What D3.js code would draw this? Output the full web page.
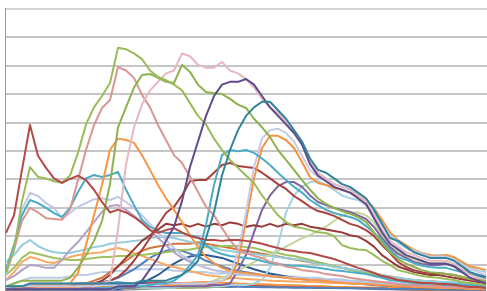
<!DOCTYPE html>
<html lang="en">
<head>
    <meta charset="UTF-8">
    <title>Series chart</title>
    <style>
        body {
            margin: 0;
            background-color: #ffffff;
        }
        svg {
            display: block;
        }
        .series path {
            fill: none;
            stroke-width: 2;
            stroke-linejoin: round;
        }
    </style>
    <script src="https://d3js.org/d3.v7.min.js"></script>
</head>
<body>
<svg id="chart" width="487" height="291"></svg>
<script>
    // gridline values (the tick labels sit outside the cropped picture)
    const yTicks = [0, 10, 20, 30, 40, 50, 60, 70, 80, 90, 100];

    // 61 periods along the x axis
    const periods = Array.from({length: 61}, (_, i) => i + 1);

    // series values, one array per line
    const z1 = [1,1.5,2,2.5,2.5,2.2,2,2.2,2.4,2.6,2.8,3,3,3.2,3.4,3.2,3,2.8,2.6,2.5,2.4,2.4,2.3,2.2,2.2,2.1,2,2,1.9,1.9,1.8,1.8,1.7,1.7,1.6,1.6,1.5,1.5,1.5,1.4,1.4,1.4,1.3,1.3,1.3,1.2,1.2,1.2,1.1,1.1,1.1,1,1,1,1,0.9,0.9,0.9,0.8,0.8,0.8];
    const z2 = [0.5,0.8,1.2,1.5,1.4,1.3,1.3,1.4,1.5,1.6,1.8,2,2.2,2.4,2.6,2.8,3,3.2,3.3,3.4,3.3,3.2,3,2.9,2.8,2.7,2.6,2.5,2.4,2.3,2.2,2.1,2,1.9,1.8,1.8,1.7,1.7,1.6,1.6,1.5,1.5,1.4,1.4,1.3,1.3,1.2,1.2,1.1,1.1,1,1,1,0.9,0.9,0.9,0.8,0.8,0.8,0.7,0.7];
    const z3 = [0.8,1,1.2,1.4,1.3,1.2,1.2,1.3,1.3,1.4,1.4,1.5,1.6,1.7,1.8,1.9,2,2.2,2.4,2.6,2.8,3,3.2,3.3,3.4,3.5,3.4,3.3,3.2,3,2.9,2.8,2.7,2.6,2.5,2.4,2.3,2.2,2.1,2,1.9,1.8,1.8,1.7,1.7,1.6,1.6,1.5,1.5,1.4,1.4,1.3,1.3,1.2,1.2,1.1,1.1,1,1,1,0.9];
    const z4 = [0.3,0.5,0.7,0.8,0.8,0.7,0.7,0.8,0.8,0.9,0.9,1,1,1,1.1,1.1,1.2,1.2,1.3,1.3,1.4,1.4,1.5,1.5,1.6,1.7,1.8,1.9,2,2.1,2.2,2.3,2.4,2.5,2.5,2.4,2.3,2.2,2.1,2,1.9,1.8,1.7,1.6,1.5,1.4,1.3,1.2,1.1,1,1,0.9,0.9,0.8,0.8,0.7,0.7,0.6,0.6,0.5,0.5];
    const z5 = [0.2,0.3,0.4,0.5,0.5,0.5,0.5,0.5,0.6,0.6,0.6,0.7,0.7,0.8,0.8,0.9,1,1.1,1.2,1.3,1.4,1.5,1.6,1.6,1.7,1.7,1.8,1.8,1.8,1.9,1.9,1.9,2,2,2,2,1.9,1.9,1.8,1.8,1.7,1.6,1.5,1.4,1.3,1.2,1.1,1,1,0.9,0.9,0.8,0.8,0.7,0.7,0.6,0.6,0.5,0.5,0.4,0.4];
    const z6 = [2,3,4,5,5,5,5,5,5.5,6,6,6.5,7,7,7.5,7.5,8,8,8,8,8,7.5,7.5,7,7,7,6.5,6.5,6.5,6,6,6,6,6,5.5,5.5,5.5,5,5,5,4.5,4.5,4.5,4,4,4,3.5,3.5,3.5,3,3,3,2.8,2.6,2.4,2.2,2,1.8,1.6,1.5,1.4];
    const blue1 = [1,1,1.5,2,2,2,2,2,2.5,3,3,3,3.5,4,5,6.5,8,10,12,13.5,14.5,15,14.5,13.5,12.5,11,10,9,8,7.5,7,6.5,6,5.7,5.4,5.1,4.8,4.5,4.3,4.1,3.9,3.7,3.5,3.3,3.1,3,2.9,2.8,2.7,2.6,2.5,2.4,2.3,2.2,2.1,2,1.9,1.8,1.7,1.6,1.5];
    const blue2 = [1,1,1,1,1,1,1,1,1,1,1,1,1,1,1,1.5,2,3,4.5,6,8,10,11.5,12.5,13,13,12.5,12,11,10,9,8,7.2,6.5,6,5.5,5,4.7,4.4,4.1,3.8,3.5,3.3,3.1,2.9,2.7,2.5,2.3,2.1,2,1.9,1.8,1.7,1.6,1.5,1.4,1.3,1.2,1.1,1,1];
    const orangeLow = [4.2,7,10.6,12.3,11.6,10.6,10.2,11.3,12.3,13,13.4,13.7,14,15,15.5,14.8,13.7,12.7,11.6,10.6,9.5,8.8,8.1,7.4,6.7,6,5.6,5.3,5,4.8,4.6,4.4,4.2,4,3.9,3.8,3.7,3.6,3.5,3.4,3.3,3.2,3.1,3,2.9,2.8,2.7,2.6,2.5,2.4,2.3,2.2,2.1,2,1.9,1.8,1.7,1.6,1.5,1.4,1.3];
    const orangeDark = [2,2,2,2,2.5,2.5,2.5,2.5,2.5,3,3,4,5,7,9,11,13,14.5,15.5,16,16.5,17,17,17,17.5,17,16.5,16,15.5,15,14.5,14,13.5,13,12.5,12,11.5,11,10.5,10,9.5,9,8.5,8,7.5,7,6.5,6,5.5,5,4.5,4.2,4,3.8,3.6,3.4,3.2,3,2.8,2.6,2.4];
    const greenLow = [6,8.5,12,14,13.4,12.7,12,11.6,11.3,11.3,11.6,12,12.3,12.3,12.7,12.7,13,13,13.4,13.7,14,14.4,14.8,15,15.5,15.8,15.8,16.2,16.2,16.2,15.8,15.5,14.8,14,13.7,13,12.7,12,11.3,10.6,9.9,9.2,8.5,7.7,7,6.7,6,5.6,5,4.6,4.2,4,3.8,3.6,3.4,3.3,3.2,3,2.8,2.6,2.4];
    const cyanLow = [10.6,13,16.5,18.3,16.2,14.8,14,13.7,13.7,14.4,15,15.8,16.2,17,17.3,17.6,18,18.3,19,19.4,19.4,19,18.3,17.6,17,16.2,15.5,14.8,14.4,14,13.7,13.4,13,12.7,12.3,12,11.6,11.3,10.6,9.9,9.5,8.8,8.5,8.1,7.7,7.4,6.7,6,5.3,5,4.6,4.3,4,3.8,3.6,3.5,3.4,3.2,3,2.8,2.6];
    const greenLight = [1,1,1,1,1.5,1.5,1.5,1.5,1.5,1.5,2,2,2,2,2,2,2,2,2.5,2.5,2.5,2.5,2.5,2.5,3,3,4,5,6,7.5,9,10.5,12,13,14.5,16,17.5,19,20,21.5,23,25,27,28,28,27,24.5,20,16,14,12.5,11.5,10.5,10,10,10,9.5,8,7,6,5.5];
    const cyanLight = [1,1,1,1,1,1,1,1,1,1,1,1,1,1,1.5,1.5,1.5,1.5,1.5,1.5,1.5,1.5,2,2,2,2,2,2,2.5,2.5,2.5,3,4.2,8.5,16.5,28,34,37,38.7,39,37.7,36,34,33,32.4,30.6,27.8,23.6,20,17.3,15.5,14,13,12.7,13,13,12,10.2,8.8,7.7,7];
    const purpleMid = [1,1,1,1,1,1,1,1,1,1,1.5,1.5,1.5,1.5,1.5,1.5,1.5,2,2,2,2,2,2,2,2,2,2.5,2.5,3,7.7,13,21,28.9,34,37.3,38.7,38.7,37,34,31.7,30.6,29.6,28.9,28.2,27,25.7,22.9,19,15.8,13.4,12,10.6,9.9,9.5,9.5,9.9,9.2,7.7,6.7,6,5.6];
    const purpleLight = [4.2,5.6,7.7,9.5,9.2,8.5,8.5,11.3,14.8,17.6,21,24.6,28.2,30.3,30.6,28.9,26.8,24.6,21.8,19,16.5,14,12,10.6,9.5,8.5,7.7,7.2,6.8,6.5,6.2,6,5.8,5.6,5.4,5.2,5,4.8,4.6,4.4,4.2,4,3.8,3.6,3.4,3.2,3,2.8,2.6,2.4,2.2,2,1.9,1.8,1.7,1.6,1.5,1.4,1.3,1.2,1.1];
    const lavender = [6,14.8,29,34.9,33.8,31.3,29.6,26,27.8,30,31.3,32.7,33,32.4,33.5,31.7,29.6,27,24,21,18.3,15.5,13,11.3,9.5,8.5,7.7,7,6.7,6.3,6,5.8,5.6,5.5,5.4,5.2,5,4.8,4.6,4.4,4.2,4,3.8,3.6,3.4,3.2,3,2.8,2.6,2.4,2.2,2,1.9,1.8,1.7,1.6,1.5,1.4,1.3,1.2,1.1];
    const cyanEarly = [7.7,16.5,27,32.4,31.3,29.6,27.8,26.4,29.6,35.2,40,41.2,40.5,41.2,42.3,36,30.6,25.4,22.9,21.5,20.8,20.8,20.8,20,19.4,16.5,14.4,13.4,12.7,12.3,12,11.6,10.9,10.2,9.9,9.5,9.2,9.2,8.8,8.5,8.1,7.7,7.4,7,6.7,6.3,5.6,5,4.2,3.9,3.5,3.3,3.1,3,3,2.9,2.8,2.6,2.4,2.2,2];
    const redFlat = [1,1,1,1,2,2,2,2,2,3,3,3,4,6,9,12,15,18,20,22,24,23.5,24,23,24,23,24,23.5,24.5,24,23,23.5,23,24,23,24,23.5,24,23,22.5,22,21.5,21,20,19.5,18,16,13,11,9,8,7,6.5,6,6,5.5,5,4.5,4,3.5,3.2];
    const redHump = [1,1,1,2,2,2,2,2,2,2,2,2,3,4,5.3,7.7,11,14.8,19,23.6,27.8,30,34,39,39.4,39.4,42,44.7,45.4,44.4,44,43.7,42,40,38,36.3,33.8,32,30,28.5,27.8,26.8,25.4,24,23.2,21.8,19.7,16.5,13.7,10.6,8.8,7.7,7,6.7,6.7,6.3,6,5.3,4.6,4.2,3.9];
    const orangeEarly = [1,1,2,2,2,2,2,2,3,6.7,16.5,27,37.7,50,54,53.5,52.5,48.2,43,37.7,33,28.9,24.6,20,15.8,12.3,10.2,8.5,7.4,7,6.7,6.3,6,5.6,5.3,5,4.6,4.6,4.2,4.2,3.9,3.5,3.3,3.1,3,2.8,2.6,2.4,2.2,2,1.9,1.8,1.7,1.6,1.5,1.4,1.3,1.2,1.1,1,1];
    const orangeLate = [1,1,1,1,1.5,1.5,1.5,1.5,1.5,2,2,2,2,2,2,2,2,2,2.5,2.5,2.5,2.5,3,3,3,3,3.5,4,5,10.6,25,40,50.7,55,55,53.5,50.7,45.8,40.5,38.4,37.7,36.6,36,35,33.8,32.4,29.6,25.4,21,18.3,16.5,14.8,13.7,13,12.7,13,12.3,10.6,9,8.5,7.7];
    const blueLight = [2,2,2,2,2,2,2,2,2,2,2,2,2.5,2.5,2.5,2.5,2.5,2.5,2.5,2.5,3,3,3,3,3,3,3.5,4,6,14,28,44,54,57,57.5,56,53,48,43,40.5,39.5,38,37,36.5,35,33,29,24,20,18,16,14.5,13.5,12.5,12.5,12.5,11.5,9.5,8,7,6];
    const cyanMid = [1,1,1,1,1,1,1,1,1,1,1,1,1.5,1.5,1.5,2,2,2,2.5,3,3,4,6,9.5,13,23.6,37.7,48.2,50,49.6,50,49,47,44.7,42,39.4,37,35,32.4,30.6,28.9,27.8,27,26.4,25.4,23.2,20.8,18.3,14.8,12.3,11.3,10.2,9.2,8.8,8.5,8.5,7.7,7,6.3,5.6,5];
    const pink = [7,15,25,29.6,28,26,25.7,25.4,29,39.4,50,58.8,64.8,67.6,79.2,78,75.4,69.4,65,58.8,53.5,48.2,45.4,40.5,35.2,30,27,22.5,18.3,14.8,13.7,12.7,12,10.6,10,9,8.5,7.7,7.4,7,6.3,6,5.6,5,4.6,4.2,3.9,3.5,3.2,2.8,2.5,2.3,2.1,2,2,1.8,1.7,1.6,1.5,1.4,1.3];
    const pinkLight = [2,2,2,3,3,3,3,3,3,3,3,3,3,4,22,45,58,66,71,74,77,78,84,83,80,79,79,81,78,77,75,72,68,65,63,60,56,52,46,42,40,38,37,36,34,32,27,22,18,16,14,13,12,11,11,11,10,8,6,5,4];
    const green2 = [2,3,4,4,4,4,4,4,5,8.5,13,18,25,38,58,65,72,76.4,76.8,75.4,74,73.6,80,77.5,73,70.4,70,69.7,68,66,64.8,61,58,54.6,50,46.5,43,39.4,36,33,31,29.6,28.5,27.5,26.4,24.6,21,17.3,14,11.6,10,8.8,7.7,7,6.7,6.3,6,5.3,4.6,4.2,3.9];
    const greenTall = [6.7,15,32,44,40.5,40,39,38.5,41,49,59,65,69,73.6,86,85.5,84,82,78,75.7,74.6,73,71,66.5,62,59,54,50,46.5,43.7,41,38.4,34,30.6,27,24.6,23,22.5,21.8,21,20.8,19.7,16.5,15.5,15,14.8,13,11,9.5,7.7,7,6.3,5.6,5.3,5,4.6,4.2,3.5,3.2,2.8,2.5];
    const redSpike = [20.8,27,43,58.8,48,43.7,40,38.4,39.8,41,39.4,36,31.7,28,29,28,26.4,24.3,21.8,20.8,21.8,22.5,21,19.7,19,18.3,18.3,18,18.3,18.3,18,17.6,17,16.2,15.5,14.8,14.4,14,13.7,13,12.3,11.6,10.6,9.5,8.5,7.7,6.7,5.6,5,4.2,3.9,3.5,3.2,3.2,2.8,2.8,2.5,2.1,1.8,1.8,1.4];
    const purple = [1,1,1,1,1,1,1,1,1,1,1,1,1,1,2,2,2,4,8,12,18,23,32,44,53,62,69,73,74,74,75,73,69,65,62,59,56,52,45,41,39,37,36,35,33,31,26,21,17,15,13,12,11,10,10,10,9,7,5,4,3];
    const teal = [2,2,2,3,3,3,3,3,3,3,3,3,3,3,3,3,3,4,4,4,4,5,6,8,11,19,28,41,50,57,62,65,67,67,64,61,57,53,47,43,42,40,38,37,35,33,29,24,19,18,16,14,13,12,12,12,11,9,7,6,5];

    // drawing order: flat lines first, the tall ones last
    const seriesList = [
        {values: z6, color: "#B9CDE5"},
        {values: z5, color: "#8064A2"},
        {values: z4, color: "#9BBB59"},
        {values: z3, color: "#F79646"},
        {values: z2, color: "#C0504D"},
        {values: z1, color: "#4F81BD"},
        {values: blue2, color: "#2C5D96"},
        {values: blue1, color: "#4F81BD"},
        {values: orangeLow, color: "#F9A965"},
        {values: orangeDark, color: "#D4743A"},
        {values: greenLow, color: "#A2C161"},
        {values: cyanLow, color: "#93CDDD"},
        {values: greenLight, color: "#C3D69B"},
        {values: cyanLight, color: "#A5D3E0"},
        {values: purpleMid, color: "#8064A2"},
        {values: purpleLight, color: "#B3A2C7"},
        {values: lavender, color: "#C0C8E6"},
        {values: cyanEarly, color: "#4BACC6"},
        {values: redFlat, color: "#963B38"},
        {values: redHump, color: "#A8403D"},
        {values: orangeEarly, color: "#F79646"},
        {values: orangeLate, color: "#F6913E"},
        {values: blueLight, color: "#C6CBE8"},
        {values: cyanMid, color: "#4BACC6"},
        {values: pink, color: "#D99694"},
        {values: pinkLight, color: "#E6B9C1"},
        {values: green2, color: "#8FB24D"},
        {values: greenTall, color: "#9BBB59"},
        {values: redSpike, color: "#B44A47"},
        {values: purple, color: "#5F4A8B"},
        {values: teal, color: "#31849B"}
    ];

    const svg = d3.select("#chart"),
        width = +svg.attr("width"),
        height = +svg.attr("height");

    const plotLeft = 5.5, plotTop = 8, plotBottom = 292;

    const x = d3.scaleLinear()
        .domain([periods[0], periods[periods.length - 1]])
        .range([6, 486]);

    const y = d3.scaleLinear()
        .domain([0, 100])
        .range([plotBottom, plotTop]);

    // horizontal gridlines from a left axis with long ticks, labels hidden
    const grid = svg.append("g")
        .attr("transform", `translate(${plotLeft},0)`)
        .call(d3.axisLeft(y).tickValues(yTicks).tickSize(-(width - plotLeft)).tickFormat(""));
    grid.select(".domain").remove();
    grid.selectAll(".tick line")
        .attr("stroke", (d, i) => d === 100 ? "#a6a6a6" : "#8c8c8c")
        .attr("stroke-width", 1)
        .attr("transform", d => `translate(0,${Math.round(y(d)) + 0.5 - y(d)})`);

    // vertical axis line
    svg.append("line")
        .attr("x1", plotLeft).attr("x2", plotLeft)
        .attr("y1", plotTop).attr("y2", height)
        .attr("stroke", "#9a9a9a")
        .attr("stroke-width", 1);

    const line = d3.line()
        .x((d, i) => x(periods[i]))
        .y(d => y(d));

    svg.append("g")
        .attr("class", "series")
        .selectAll("path")
        .data(seriesList)
        .enter().append("path")
        .attr("d", d => line(d.values))
        .attr("stroke", d => d.color);
</script>
</body>
</html>
